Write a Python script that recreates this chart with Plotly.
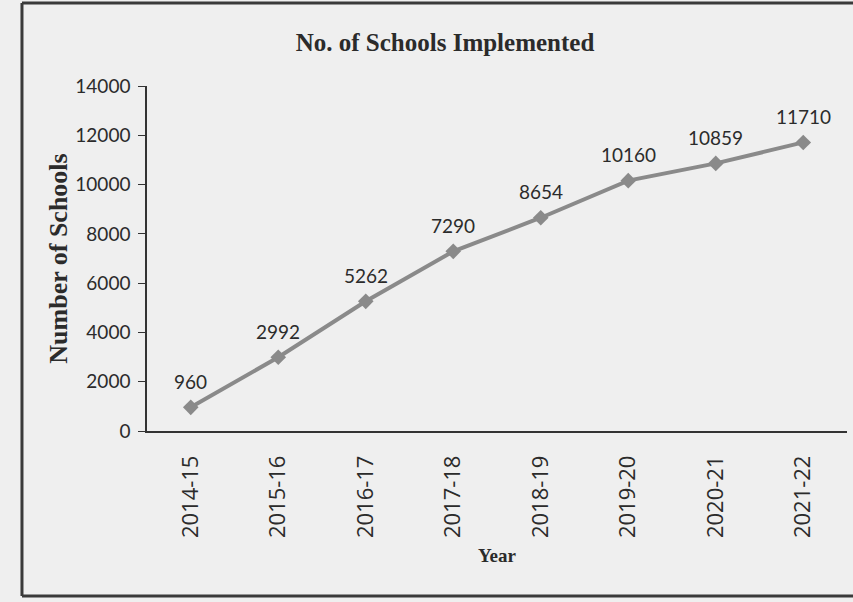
import plotly.graph_objects as go

years = ["2014-15", "2015-16", "2016-17", "2017-18", "2018-19", "2019-20", "2020-21", "2021-22"]
schools = [960, 2992, 5262, 7290, 8654, 10160, 10859, 11710]
y_ticks = [0, 2000, 4000, 6000, 8000, 10000, 12000, 14000]
y_tick_labels = [str(v) for v in y_ticks]

bg = "#efefef"
line_col = "#8a8a8a"
txt = "#2b2b2b"

fig = go.Figure()
fig.add_trace(go.Scatter(
    x=years, y=schools, mode="lines+markers",
    line=dict(color=line_col, width=4),
    marker=dict(symbol="diamond", size=12, color=line_col),
    hoverinfo="skip", showlegend=False,
))

for xv, yv in zip(years, schools):
    fig.add_annotation(x=xv, y=yv, text=str(yv), showarrow=False,
                       yshift=26, font=dict(family="Lato", size=19, color=txt))

# scanned frame
frame = dict(color="#3a3a3a", width=3)
fig.add_shape(type="line", xref="paper", yref="paper", x0=-0.1786, x1=-0.1786, y0=-0.478, y1=1.2406, line=frame)
fig.add_shape(type="line", xref="paper", yref="paper", x0=-0.1786, x1=1.01, y0=1.2406, y1=1.2406, line=frame)
fig.add_shape(type="line", xref="paper", yref="paper", x0=-0.1786, x1=1.01, y0=-0.478, y1=-0.478, line=frame)

fig.update_layout(
    width=853, height=602,
    margin=dict(l=147, r=6, t=86, b=171),
    paper_bgcolor=bg, plot_bgcolor=bg,
    title=dict(text="<b>No. of Schools Implemented</b>", x=0.5217, xanchor="center",
               y=0.93, yanchor="middle",
               font=dict(family="Liberation Serif", size=25, color=txt)),
    xaxis=dict(
        type="category", range=[-0.5, 7.5],
        showline=True, linecolor="#333", linewidth=1.5,
        showgrid=False, zeroline=False, ticks="",
        tickangle=-90, ticklabelstandoff=14,
        tickfont=dict(family="Open Sans", size=22, color=txt),
        title=dict(text="<b>Year</b>", standoff=12,
                   font=dict(family="Liberation Serif", size=19, color=txt)),
    ),
    yaxis=dict(
        range=[0, 14000], tickvals=y_ticks, ticktext=y_tick_labels,
        showline=True, linecolor="#333", linewidth=1.5,
        showgrid=False, zeroline=False,
        ticks="outside", ticklen=7, tickcolor="#333", ticklabelstandoff=4,
        tickfont=dict(family="Lato", size=19, color=txt),
        title=dict(text="<b>Number of Schools</b>", standoff=0,
                   font=dict(family="Liberation Serif", size=26, color=txt)),
    ),
)

fig.write_html("out.html", config={"displayModeBar": False})

with open("out.html", "r", encoding="utf-8") as f:
    html = f.read()
html = html.replace("<head>", "<head><style>html,body{margin:0;padding:0;}</style>", 1)
with open("out.html", "w", encoding="utf-8") as f:
    f.write(html)
